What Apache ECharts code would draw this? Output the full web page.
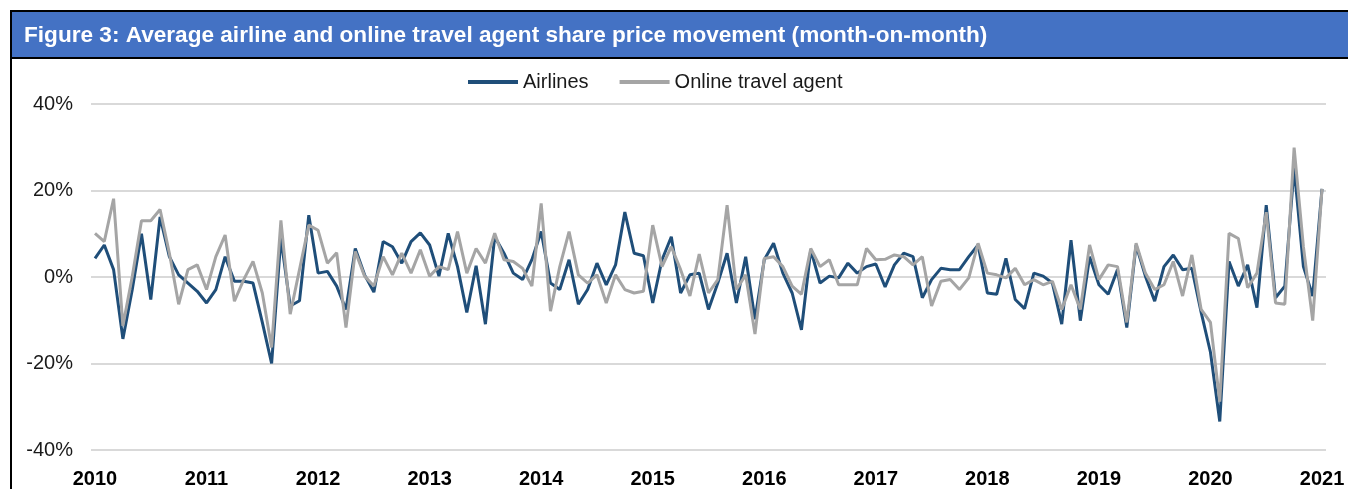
<!DOCTYPE html>
<html>
<head>
<meta charset="utf-8">
<script src="https://cdn.jsdelivr.net/npm/echarts@6/dist/echarts.min.js"></script>
<style>
  html, body { margin: 0; padding: 0; background: #fff; }
  #chart { width: 1348px; height: 489px; }
</style>
</head>
<body>
<div id="chart"></div>
<script>
// monthly moves, Jan 2010 .. Jan 2021 (%)
const years = ['2010', '2011', '2012', '2013', '2014', '2015', '2016', '2017', '2018', '2019', '2020', '2021'];
const yTicks = [-40, -20, 0, 20, 40];

const airlines = [
  4.3, 7.4, 1.7, -14.3, -3, 10, -5.2, 13.9, 4.7, 0.5, -1.4, -3.3,
  -6, -2.9, 4.7, -1, -1, -1.4, -10.5, -20, 9, -6.7, -5.5, 14.3,
  0.9, 1.3, -2.1, -7.5, 6.6, 0.5, -3.5, 8.2, 7, 3.2, 8.2, 10.2,
  7.4, 0.2, 10.1, 2.4, -8.2, 2.6, -10.9, 9.3, 5.5, 0.9, -0.6, 4,
  10.5, -1.4, -2.9, 4, -6.3, -2.9, 3.2, -1.8, 2.8, 15, 5.5, 4.9,
  -6, 4, 9.3, -3.7, 0.5, 0.9, -7.5, -1.4, 5.5, -6, 4.7, -9.8,
  4, 7.8, 0.9, -3.7, -12.2, 6.3, -1.4, 0.2, -0.2, 3.2, 0.9, 2.4,
  3, -2.3, 2.8, 5.5, 4.7, -4.8, -0.6, 2, 1.7, 1.7, 4.7, 7.4,
  -3.7, -4, 4.3, -5.2, -7.3, 0.9, 0.2, -1.4, -10.9, 8.5, -10.1, 4.7,
  -1.8, -4, 1.7, -11.7, 7.4, 0.2, -5.6, 2.4, 5.1, 1.7, 2, -8.2,
  -17.4, -33.4, 3.6, -2.1, 2.8, -7.1, 16.6, -4.8, -2.1, 25.3, 2.4, -4.4,
  20.4
];

const onlineTravel = [
  10.1, 8.2, 18.1, -11.3, 0, 13, 13, 15.6, 5.5, -6.3, 1.7, 2.8,
  -2.9, 4.7, 9.7, -5.6, -0.6, 3.6, -3.7, -16.3, 13.1, -8.6, 1.7, 12,
  10.8, 3.2, 5.6, -11.7, 5.9, 0.2, -2.1, 4.7, 0.5, 5.5, 0.9, 6.3,
  0.2, 2.4, 1.7, 10.5, 0.9, 6.6, 3.2, 10.1, 4, 3.6, 2, -2.1,
  17, -7.9, 2.4, 10.5, 0.5, -1.4, 0.5, -6, 0.5, -2.9, -3.7, -3.3,
  12, 2.4, 7, 1.7, -4.4, 5.3, -3.7, -0.6, 16.6, -2.9, 0.5, -13.2,
  4.3, 4.7, 2.4, -2.1, -4, 6.6, 2.4, 4, -1.8, -1.8, -1.8, 6.6,
  4, 4.1, 5.1, 4.7, 2.8, 4.7, -6.7, -1, -0.6, -2.9, -0.2, 7.8,
  0.9, 0.5, -0.2, 2, -1.8, -0.6, -1.8, -1, -7.5, -1.8, -7.5, 7.4,
  -0.6, 2.8, 2.4, -10.5, 7.8, 0.9, -2.9, -1.8, 3.6, -4.4, 5.1, -7.5,
  -10.5, -28.8, 10.1, 8.9, -2.5, 0.9, 15, -6, -6.3, 29.9, 7, -10.1,
  20.4
];

const font = '"Liberation Sans", Arial, sans-serif';

let myecharts = echarts.init(document.getElementById('chart'));

myecharts.setOption({
  animation: false,
  graphic: [
    {
      type: 'rect',
      shape: { x: 11, y: 11, width: 1345, height: 47 },
      style: { fill: '#4472C4', stroke: '#000', lineWidth: 2 },
    },
    {
      type: 'line',
      shape: { x1: 11, y1: 58, x2: 11, y2: 489 },
      style: { stroke: '#000', lineWidth: 2 },
    },
    {
      type: 'text',
      x: 24,
      y: 36,
      style: {
        text: 'Figure 3: Average airline and online travel agent share price movement (month-on-month)',
        font: 'bold 22.6px ' + font,
        fill: '#fff',
        verticalAlign: 'middle',
      },
    },
  ],
  legend: {
    left: 463,
    top: 67,
    icon: 'rect',
    itemWidth: 50,
    itemHeight: 4,
    itemGap: 31,
    textStyle: { fontFamily: font, fontSize: 20, color: '#1a1a1a' },
    data: ['Airlines', 'Online travel agent'],
  },
  grid: {
    left: 91,
    right: 22,
    top: 104,
    bottom: 35,
  },
  xAxis: {
    type: 'value',
    min: -0.43,
    max: airlines.length - 1 + 0.43,
    axisLine: { show: false },
    axisTick: { show: false },
    splitLine: { show: false },
    axisLabel: {
      customValues: years.map((y, i) => i * 12),
      formatter: (v) => years[Math.round(v / 12)],
      fontFamily: font,
      fontSize: 20,
      fontWeight: 'bold',
      color: '#000',
      margin: 19,
    },
  },
  yAxis: {
    type: 'value',
    min: yTicks[0],
    max: yTicks[yTicks.length - 1],
    interval: 20,
    axisLine: { show: false },
    axisTick: { show: false },
    splitLine: { lineStyle: { color: '#d9d9d9', width: 2 } },
    axisLabel: {
      formatter: '{value}%',
      fontFamily: font,
      fontSize: 20,
      color: '#1a1a1a',
      margin: 18,
    },
  },
  series: [
    {
      name: 'Airlines',
      type: 'line',
      data: airlines.map((v, i) => [i, v]),
      showSymbol: false,
      color: '#1F4E79',
      lineStyle: { width: 3, color: '#1F4E79' },
    },
    {
      name: 'Online travel agent',
      type: 'line',
      data: onlineTravel.map((v, i) => [i, v]),
      showSymbol: false,
      color: '#A5A5A5',
      lineStyle: { width: 3, color: '#A5A5A5' },
    },
  ],
});
</script>
</body>
</html>
